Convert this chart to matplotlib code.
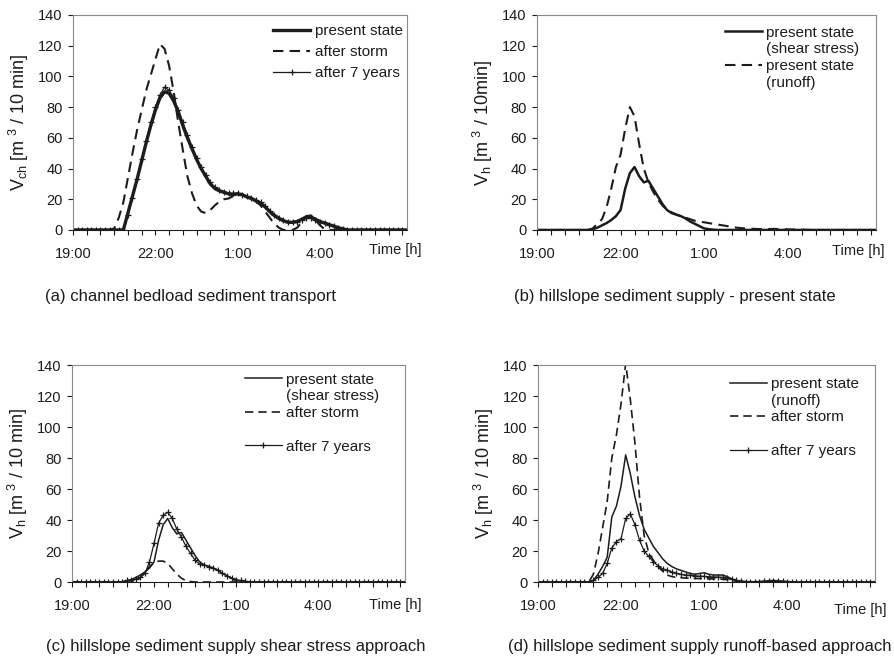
import numpy as np
import matplotlib.pyplot as plt
from matplotlib.lines import Line2D

plt.rcParams['font.family'] = ['Liberation Sans', 'DejaVu Sans']
plt.rcParams['mathtext.default'] = 'regular'

# Values every 10 min, first value at 19:00 [m3 / 10 min]
STEP_H = 1.0 / 6.0
TICK_HOURS = [0, 3, 6, 9]
TICK_LABELS = ['19:00', '22:00', '1:00', '4:00']

# (a) channel bedload sediment transport
a_present = [0, 0, 0, 0, 0, 0, 0, 0, 0, 0, 0, 0,
             11, 22, 33, 45, 57, 68, 78, 86, 90, 89, 84, 77, 68, 60, 53, 46, 40, 35,
             30, 27, 25.5, 24.5, 23.5, 23, 23.5, 23, 21.5, 20.5, 19, 17.5, 15, 12, 9.5, 7.5,
             6, 5, 5, 5.5, 7, 8.5, 8.5, 7, 5.5, 4.5, 3.5, 2.5, 1.5, 0.7,
             0, 0, 0, 0, 0, 0, 0, 0, 0, 0, 0, 0, 0, 0]
a_storm = [0, 0, 0, 0, 0, 0, 0, 0, 0,
           1, 8, 18, 34, 50, 65, 78, 91, 101, 111, 121, 118, 107, 90, 70, 52, 35, 24, 16,
           12, 11, 13, 16, 18.5, 20, 20.5, 22, 23, 23, 21.5, 20, 18.5, 16, 12, 8, 4, 1.5,
           0, 0, 0, 1.5, 5, 9, 9.5, 6.5, 3, 0.5,
           0, 0, 0, 0, 0, 0, 0, 0, 0, 0, 0, 0, 0, 0, 0, 0, 0, 0]
a_7years = [0, 0, 0, 0, 0, 0, 0, 0, 0, 0, 0, 0,
            10, 21, 33, 46, 58, 70, 80, 88, 93, 91, 86, 78, 70, 62, 54, 47, 41, 36,
            31, 28, 26, 25, 24, 24, 24, 23, 22, 21, 19.5, 18, 15.5, 12.5, 10, 8,
            6.5, 5.5, 5, 5.5, 6.5, 7.5, 7.5, 6.5, 5.5, 4.5, 3.5, 2.5, 1.5, 0.8, 0.3,
            0, 0, 0, 0, 0, 0, 0, 0, 0, 0, 0, 0, 0]

# (b) hillslope sediment supply - present state
b_shear = [0, 0, 0, 0, 0, 0, 0, 0, 0, 0, 0, 0,
           0.5, 1.5, 3, 4.5, 6.5, 9, 13, 27, 37, 41, 35, 31, 32, 27, 22, 17, 13, 11,
           10, 9, 7.5, 5.5, 4, 2.5, 1, 0.5, 0.2,
           0, 0, 0, 0, 0, 0, 0, 0, 0, 0, 0, 0, 0, 0, 0, 0, 0, 0, 0, 0,
           0, 0, 0, 0, 0, 0, 0, 0, 0, 0, 0, 0, 0, 0, 0]
b_runoff = [0, 0, 0, 0, 0, 0, 0, 0, 0, 0, 0, 0,
            1, 4, 7, 15, 27, 41, 49, 66, 80, 74, 56, 40, 31, 25, 20, 16, 13, 11.5,
            10, 9, 8, 7, 6, 5.5, 5, 4.5, 4, 3.5, 3, 2.5, 2, 1.5, 1.2, 1,
            0.8, 0.7, 0.6, 0.6, 0.6, 0.7, 0.6, 0.5, 0.4, 0.3, 0.3, 0.2, 0.1,
            0, 0, 0, 0, 0, 0, 0, 0, 0, 0, 0, 0, 0, 0, 0]

# (c) hillslope sediment supply, shear stress approach
c_storm = [0, 0, 0, 0, 0, 0, 0, 0, 0, 0, 0, 0, 0, 0,
           1, 3, 6, 10, 12.5, 13.5, 13.5, 12, 8.5, 5, 2.5, 0.8, 0.3,
           0, 0, 0, 0, 0, 0, 0, 0, 0, 0, 0, 0, 0, 0, 0, 0, 0, 0, 0, 0,
           0, 0, 0, 0, 0, 0, 0, 0, 0, 0, 0, 0, 0, 0, 0, 0, 0, 0, 0, 0,
           0, 0, 0, 0, 0, 0, 0]
c_7years = [0, 0, 0, 0, 0, 0, 0, 0, 0, 0, 0,
            0.3, 1, 1.5, 2, 3, 5.5, 13, 25, 38, 43, 45, 41, 34, 29, 23, 18.5, 14, 11.5, 11,
            10, 9, 7.5, 5.5, 4, 2.5, 1.5, 1, 0.5, 0.2,
            0, 0, 0, 0, 0, 0, 0, 0, 0, 0, 0, 0, 0, 0, 0, 0, 0, 0, 0, 0,
            0, 0, 0, 0, 0, 0, 0, 0, 0, 0, 0, 0, 0, 0]

# (d) hillslope sediment supply, runoff-based approach
d_present = [0, 0, 0, 0, 0, 0, 0, 0, 0, 0, 0, 0,
             1, 5, 10, 16, 42, 49, 62, 82, 70, 55, 43, 34, 28.5, 23, 19, 15, 12, 10,
             8.5, 7.5, 6.5, 5.5, 5, 5.5, 6, 5, 4.5, 4.5, 4.5, 3.5, 2, 1, 0.5, 0.3,
             0.2, 0.2, 0.3, 0.5, 0.8, 1, 0.8, 0.5, 0.3, 0.2,
             0, 0, 0, 0, 0, 0, 0, 0, 0, 0, 0, 0, 0, 0, 0, 0, 0, 0]
d_storm = [0, 0, 0, 0, 0, 0, 0, 0, 0, 0, 0, 0,
           5, 18, 35, 52, 80, 95, 115, 141, 118, 90, 55, 30, 19, 14, 10, 7, 4.5, 3.5,
           3, 2.8, 2.5, 2.5, 2.3, 2.2, 2.2, 2, 2, 2, 1.8, 1.5, 1, 0.5, 0.2,
           0, 0, 0, 0, 0, 0, 0, 0, 0, 0, 0, 0, 0, 0, 0, 0, 0, 0, 0, 0,
           0, 0, 0, 0, 0, 0, 0, 0, 0]
d_7years = [0, 0, 0, 0, 0, 0, 0, 0, 0, 0, 0, 0,
            1, 3, 5.5, 12, 22, 26, 28, 41, 44, 37, 27, 20, 16.5, 13, 10.5, 8.5, 7.5, 6.5,
            5.5, 5, 4.5, 4.3, 4, 3.8, 3.6, 3.4, 3.3, 3.2, 3, 2.5, 1.7, 1, 0.5, 0.3,
            0.2, 0.2, 0.3, 0.5, 0.6, 0.7, 0.6, 0.4, 0.2,
            0, 0, 0, 0, 0, 0, 0, 0, 0, 0, 0, 0, 0, 0, 0, 0, 0, 0, 0]

INK = '#1c1c1c'
SPINE = '#8a8a8a'
DASH = (5, 3)


def hours(values):
    return np.arange(len(values)) * STEP_H


def blank(label):
    return Line2D([], [], color='none', label=label)


def setupAxes(ax, ylabel, timeXY):
    ax.set_xlim(0, 12.17)
    ax.set_ylim(0, 140)
    ax.set_yticks(range(0, 141, 20))
    ax.set_xticks(TICK_HOURS)
    ax.set_xticklabels(TICK_LABELS)
    ax.set_xticks(np.arange(0, 12.1, 0.5), minor=True)
    ax.tick_params(axis='both', which='both', direction='out', length=3.5,
                   width=0.8, colors=INK, labelsize=10.5)
    ax.tick_params(axis='x', which='major', pad=9)
    ax.tick_params(axis='y', pad=4)
    for side in ['top', 'right', 'left']:
        ax.spines[side].set_color(SPINE)
    ax.spines['bottom'].set_color(INK)
    ax.set_ylabel(ylabel, fontsize=13, color=INK, labelpad=5)
    ax.text(timeXY[0], timeXY[1], 'Time [h]', transform=ax.transAxes,
            ha='center', va='center', fontsize=10.5, color=INK)


def addLegend(ax, handles, anchor, spacing):
    ax.legend(handles=handles, loc='upper left', bbox_to_anchor=anchor,
              frameon=False, fontsize=11, handlelength=2.4, handletextpad=0.3,
              labelspacing=spacing, borderpad=0, borderaxespad=0,
              labelcolor=INK)


fig = plt.figure(figsize=(8.95, 6.66), dpi=100)

# (a)
axA = fig.add_axes([0.0816, 0.6547, 0.3732, 0.3228])
lA1, = axA.plot(hours(a_present), a_present, color=INK, lw=2.4, label='present state')
lA2, = axA.plot(hours(a_storm), a_storm, color=INK, lw=1.5, dashes=DASH, label='after storm')
lA3, = axA.plot(hours(a_7years), a_7years, color=INK, lw=0.9, marker='+', ms=5,
                mew=0.9, label='after 7 years')
setupAxes(axA, 'V$_{ch}$ [m$^{\\ 3}$ / 10 min]', (0.964, -0.093))
addLegend(axA, [lA1, lA2, lA3], (0.6, 0.956), 0.44)

# (b)
axB = fig.add_axes([0.6, 0.6547, 0.3788, 0.3228])
lB1, = axB.plot(hours(b_shear), b_shear, color=INK, lw=1.8, label='present state')
lB2, = axB.plot(hours(b_runoff), b_runoff, color=INK, lw=1.5, dashes=DASH,
                label='present state')
setupAxes(axB, 'V$_h$ [m$^{\\ 3}$ / 10min]', (0.947, -0.10))
addLegend(axB, [lB1, blank('(shear stress)'), lB2, blank('(runoff)')], (0.555, 0.951), 0.18)

# (c)
axC = fig.add_axes([0.0804, 0.1261, 0.3721, 0.3258])
lC1, = axC.plot(hours(b_shear), b_shear, color=INK, lw=1.1, label='present state')
lC2, = axC.plot(hours(c_storm), c_storm, color=INK, lw=1.2, dashes=DASH, label='after storm')
lC3, = axC.plot(hours(c_7years), c_7years, color=INK, lw=0.9, marker='+', ms=5,
                mew=0.9, label='after 7 years')
setupAxes(axC, 'V$_h$ [m$^{\\ 3}$ / 10 min]', (0.97, -0.106))
addLegend(axC, [lC1, blank('(shear stress)'), lC2, blank(' '), lC3], (0.52, 0.965), 0.18)

# (d)
axD = fig.add_axes([0.6011, 0.1261, 0.3765, 0.3258])
lD1, = axD.plot(hours(d_present), d_present, color=INK, lw=1.1, label='present state')
lD2, = axD.plot(hours(d_storm), d_storm, color=INK, lw=1.2, dashes=DASH, label='after storm')
lD3, = axD.plot(hours(d_7years), d_7years, color=INK, lw=0.9, marker='+', ms=5,
                mew=0.9, label='after 7 years')
setupAxes(axD, 'V$_h$ [m$^{\\ 3}$ / 10 min]', (0.955, -0.13))
addLegend(axD, [lD1, blank('(runoff)'), lD2, blank(' '), lD3], (0.57, 0.945), 0.18)

# captions
fig.text(45 / 895, 1 - 296 / 666, '(a) channel bedload sediment transport',
         fontsize=12, color=INK, va='center')
fig.text(514 / 895, 1 - 296 / 666, '(b) hillslope sediment supply - present state',
         fontsize=12, color=INK, va='center')
fig.text(46 / 895, 1 - 646 / 666, '(c) hillslope sediment supply shear stress approach',
         fontsize=12, color=INK, va='center')
fig.text(508 / 895, 1 - 646 / 666, '(d) hillslope sediment supply runoff-based approach',
         fontsize=12, color=INK, va='center')

fig.savefig('out.png', dpi=100)
